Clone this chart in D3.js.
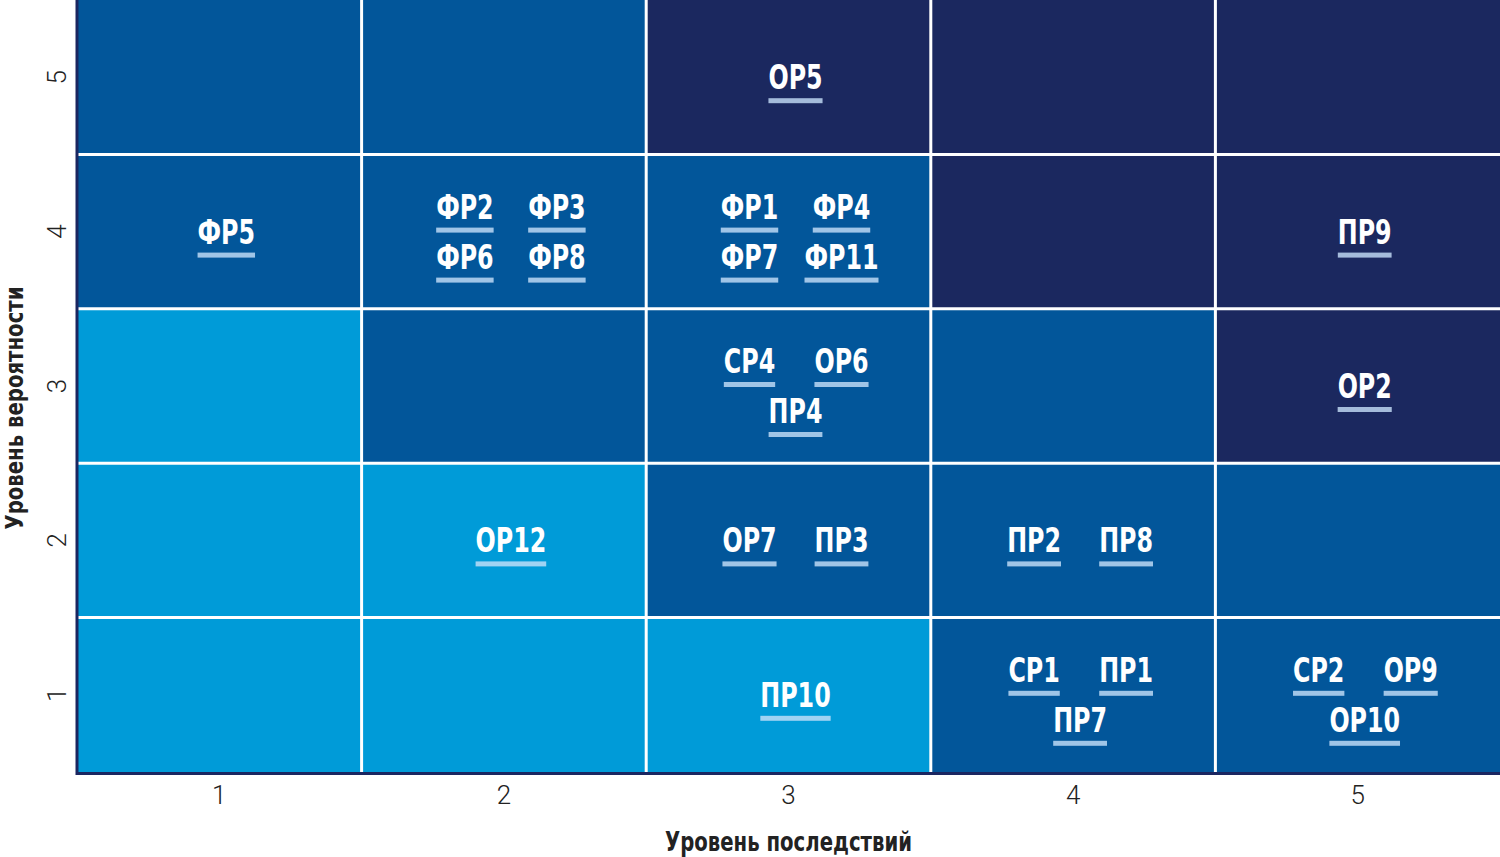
<!DOCTYPE html>
<html>
<head>
<meta charset="utf-8">
<script src="https://cdn.jsdelivr.net/npm/d3@7"></script>
<style>
  body { margin: 0; background: #fff; }
  svg { display: block; }
</style>
</head>
<body>
<svg width="1500" height="857"></svg>
<script>
// levels on both axes
var levels = [1, 2, 3, 4, 5];

// colour zone per cell, rows listed from probability 5 down to 1, columns consequence 1..5
var zoneRows = [
  ['mid', 'mid', 'high', 'high', 'high'],
  ['mid', 'mid', 'mid', 'high', 'high'],
  ['low', 'mid', 'mid', 'mid', 'high'],
  ['low', 'low', 'mid', 'mid', 'mid'],
  ['low', 'low', 'low', 'mid', 'mid']
];

// risks: code, consequence level, probability level
var riskCodes = ['ОР5', 'ФР5', 'ФР2', 'ФР3', 'ФР6', 'ФР8', 'ФР1', 'ФР4', 'ФР7', 'ФР11', 'ПР9',
  'СР4', 'ОР6', 'ПР4', 'ОР2', 'ОР12', 'ОР7', 'ПР3', 'ПР2', 'ПР8', 'ПР10', 'СР1', 'ПР1', 'ПР7',
  'СР2', 'ОР9', 'ОР10'];
var riskConseq = [3, 1, 2, 2, 2, 2, 3, 3, 3, 3, 5, 3, 3, 3, 5, 2, 3, 3, 4, 4, 3, 4, 4, 4, 5, 5, 5];
var riskProb   = [5, 4, 4, 4, 4, 4, 4, 4, 4, 4, 4, 3, 3, 3, 3, 2, 2, 2, 2, 2, 1, 1, 1, 1, 1, 1, 1];

var zoneColor = { low: '#009bd8', mid: '#02569a', high: '#1b285f' };

var svg = d3.select('svg');
var pLeft = 77, pRight = 1500, pTop = 0, pBottom = 772;

var x = d3.scaleBand().domain(levels).range([pLeft, pRight]);
var y = d3.scaleBand().domain(levels.slice().reverse()).range([pTop, pBottom]);

// cells
var cells = [];
zoneRows.forEach(function(row, i) {
  row.forEach(function(z, j) {
    cells.push({ c: levels[j], p: levels[levels.length - 1 - i], zone: z });
  });
});

svg.append('g').selectAll('rect')
  .data(cells)
  .enter()
  .append('rect')
  .attr('x', function(d) { return x(d.c); })
  .attr('y', function(d) { return y(d.p); })
  .attr('width', x.bandwidth())
  .attr('height', y.bandwidth())
  .attr('fill', function(d) { return zoneColor[d.zone]; });

// white grid lines between cells
var grid = svg.append('g').attr('stroke', '#fff').attr('stroke-width', 3);
grid.selectAll('.v')
  .data(levels.slice(1))
  .enter()
  .append('line')
  .attr('x1', function(d) { return x(d); })
  .attr('x2', function(d) { return x(d); })
  .attr('y1', pTop)
  .attr('y2', pBottom);
grid.selectAll('.h')
  .data(levels.slice(1))
  .enter()
  .append('line')
  .attr('x1', pLeft)
  .attr('x2', pRight)
  .attr('y1', function(d) { return y(d) + y.bandwidth(); })
  .attr('y2', function(d) { return y(d) + y.bandwidth(); });

// frame on left and bottom
svg.append('path')
  .attr('d', 'M' + pLeft + ',' + pTop + 'V' + (pBottom + 1.5) + 'H' + pRight)
  .attr('fill', 'none')
  .attr('stroke', '#1b2660')
  .attr('stroke-width', 3);

// risk labels, grouped per cell
var risks = riskCodes.map(function(code, i) {
  return { code: code, c: riskConseq[i], p: riskProb[i] };
});
var byCell = d3.group(risks, function(d) { return d.c + '-' + d.p; });

var labelShift = 7, colGap = 46, rowGap = 25, squeeze = 0.8;
byCell.forEach(function(items) {
  var rows = Math.ceil(items.length / 2);
  items.forEach(function(d, k) {
    var r = Math.floor(k / 2);
    var inRow = (r === rows - 1 && items.length % 2 === 1) ? 1 : 2;
    var col = k % 2;
    d.cx = x(d.c) + x.bandwidth() / 2 + labelShift + (inRow === 2 ? (col === 0 ? -colGap : colGap) : 0);
    d.by = y(d.p) + y.bandwidth() / 2 + 12 + (rows === 2 ? (r === 0 ? -rowGap : rowGap) : 0);
  });
});

var lab = svg.append('g').selectAll('g')
  .data(risks)
  .enter()
  .append('g')
  .attr('transform', function(d) { return 'translate(' + d.cx + ',' + d.by + ')'; });

lab.append('text')
  .attr('text-anchor', 'middle')
  .attr('transform', 'scale(' + squeeze + ',1)')
  .attr('fill', '#fff')
  .style('font-family', '"DejaVu Sans Condensed", "DejaVu Sans", sans-serif')
  .style('font-weight', 'bold')
  .style('font-size', '33px')
  .text(function(d) { return d.code; });

lab.each(function(d) {
  var w = d3.select(this).select('text').node().getBBox().width * squeeze;
  d3.select(this).insert('rect', 'text')
    .attr('x', -w / 2)
    .attr('y', 9)
    .attr('width', w)
    .attr('height', 5)
    .attr('fill', 'rgba(200,225,250,0.8)');
});

// axes
var xAxis = svg.append('g')
  .attr('transform', 'translate(0,' + (pBottom + 2) + ')')
  .call(d3.axisBottom(x).tickSize(0).tickPadding(12));
xAxis.select('.domain').remove();
xAxis.selectAll('text')
  .attr('fill', '#222')
  .style('font-family', 'Roboto, sans-serif')
  .style('font-weight', '300')
  .style('font-size', '26px');

var yAxis = svg.append('g')
  .attr('transform', 'translate(' + (pLeft - 1) + ',0)')
  .call(d3.axisLeft(y).tickSize(0).tickPadding(0));
yAxis.select('.domain').remove();
yAxis.selectAll('text')
  .attr('text-anchor', 'middle')
  .attr('x', 0)
  .attr('dy', 0)
  .attr('transform', 'translate(-10,0) rotate(-90)')
  .attr('fill', '#222')
  .style('font-family', 'Roboto, sans-serif')
  .style('font-weight', '300')
  .style('font-size', '26px');

// axis titles
svg.append('text')
  .attr('x', (pLeft + pRight) / 2)
  .attr('y', 851)
  .attr('text-anchor', 'middle')
  .attr('textLength', 247)
  .attr('lengthAdjust', 'spacingAndGlyphs')
  .attr('fill', '#222')
  .style('font-family', '"DejaVu Sans Condensed", sans-serif')
  .style('font-weight', 'bold')
  .style('font-size', '26px')
  .text('Уровень последствий');

svg.append('text')
  .attr('transform', 'translate(23,408) rotate(-90)')
  .attr('text-anchor', 'middle')
  .attr('textLength', 243)
  .attr('lengthAdjust', 'spacingAndGlyphs')
  .attr('fill', '#222')
  .style('font-family', '"DejaVu Sans Condensed", sans-serif')
  .style('font-weight', 'bold')
  .style('font-size', '25px')
  .text('Уровень вероятности');
</script>
</body>
</html>
